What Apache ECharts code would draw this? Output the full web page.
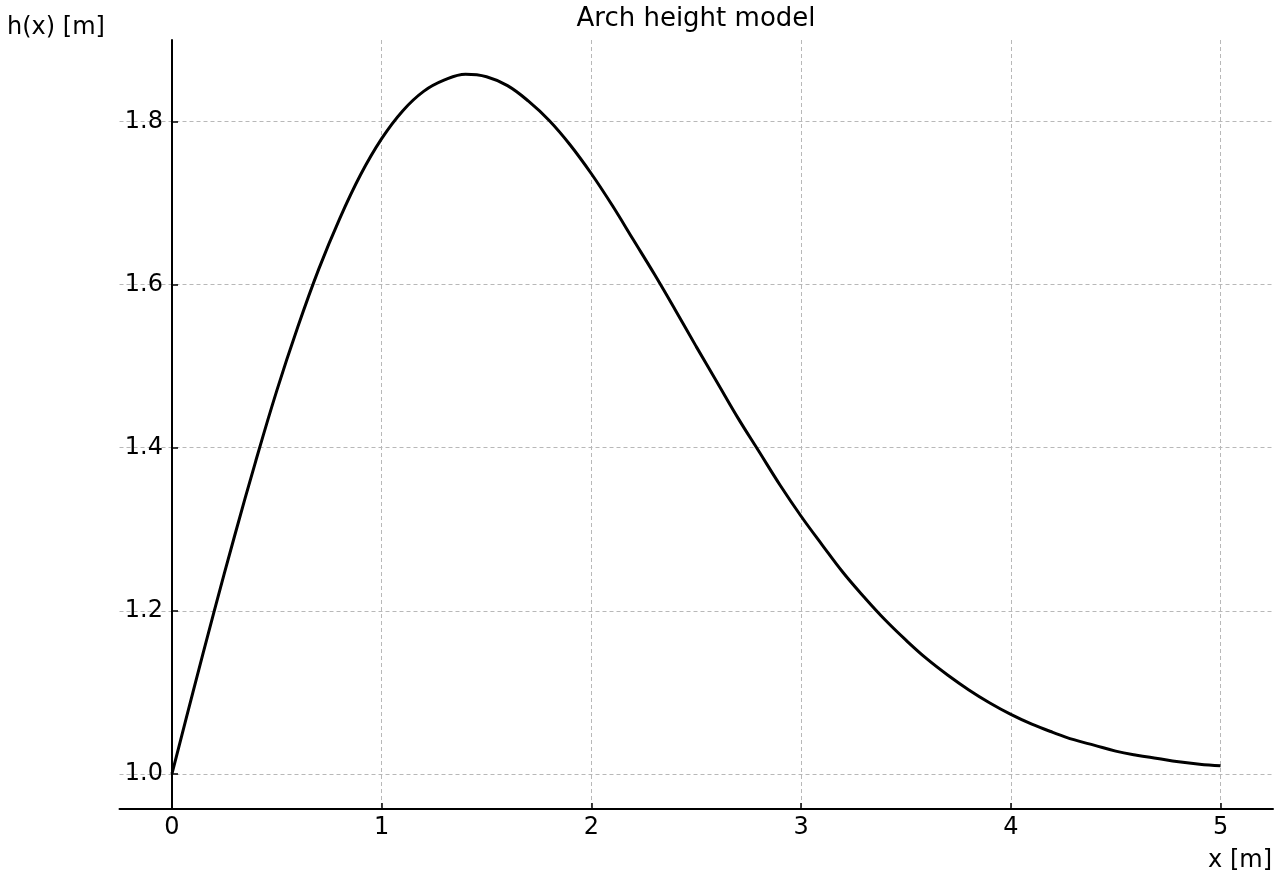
<!DOCTYPE html>
<html>
<head>
<meta charset="utf-8">
<title>Arch height model</title>
<script src="https://cdn.jsdelivr.net/npm/echarts@6/dist/echarts.min.js"></script>
<style>
  html, body { margin: 0; padding: 0; background: #fff; }
  #chart { width: 1280px; height: 880px; }
</style>
</head>
<body>
<div id="chart"></div>
<script>
// x positions along the arch [m]
var xValues = [
    0.0, 0.1, 0.2, 0.3, 0.4, 0.5, 0.6, 0.7, 0.8, 0.9,
    1.0, 1.1, 1.2, 1.3, 1.4, 1.5, 1.6, 1.7, 1.8, 1.9,
    2.0, 2.1, 2.2, 2.3, 2.4, 2.5, 2.6, 2.7, 2.8, 2.9,
    3.0, 3.1, 3.2, 3.3, 3.4, 3.5, 3.6, 3.7, 3.8, 3.9,
    4.0, 4.1, 4.2, 4.3, 4.4, 4.5, 4.6, 4.7, 4.8, 4.9, 5.0
];
// h(x) [m]
var hValues = [
    1.000, 1.100, 1.198, 1.293, 1.384, 1.470, 1.548, 1.619, 1.681, 1.735,
    1.779, 1.813, 1.837, 1.851, 1.858, 1.855, 1.844, 1.825, 1.801, 1.771,
    1.736, 1.697, 1.655, 1.613, 1.569, 1.524, 1.480, 1.436, 1.395, 1.354,
    1.316, 1.281, 1.247, 1.217, 1.189, 1.164, 1.141, 1.121, 1.103, 1.087,
    1.073, 1.061, 1.051, 1.042, 1.035, 1.028, 1.023, 1.019, 1.015, 1.012, 1.010
];
var xTicks = [0, 1, 2, 3, 4, 5];
var yTicks = [1.0, 1.2, 1.4, 1.6, 1.8];

var font = 'DejaVu Sans';
var lineData = [];
for (var i = 0; i < xValues.length; i++) {
    lineData.push([xValues[i], hValues[i]]);
}

var chart = echarts.init(document.getElementById('chart'), null, { renderer: 'canvas' });
var option = {
    animation: false,
    backgroundColor: '#fff',
    grid: {
        left: 119.5,
        right: 7,
        top: 40,
        bottom: 71,
        containLabel: false
    },
    xAxis: {
        type: 'value',
        min: -0.25,
        max: 5.25,
        axisLine: { onZero: false, lineStyle: { color: '#000', width: 2 } },
        axisTick: { inside: true, length: 6, lineStyle: { color: '#000', width: 1.5 }, customValues: xTicks },
        axisLabel: {
            color: '#000', fontFamily: font, fontSize: 24, margin: 7,
            customValues: xTicks,
            formatter: function (v) { return String(v); }
        },
        splitLine: {
            show: true,
            lineStyle: { color: '#b8b8b8', width: 1, type: [4, 3] }
        }
    },
    yAxis: {
        type: 'value',
        min: 0.957,
        max: 1.9,
        // spine sits at x = 0, i.e. 52.5px right of the grid's left edge
        offset: -52.5,
        axisLine: { show: true, onZero: false, lineStyle: { color: '#000', width: 2 } },
        axisTick: { show: true, inside: true, length: 6, lineStyle: { color: '#000', width: 1.5 }, customValues: yTicks },
        axisLabel: {
            color: '#000', fontFamily: font, fontSize: 24, margin: 9,
            customValues: yTicks,
            formatter: function (v) { return v.toFixed(1); }
        },
        splitLine: {
            show: true,
            lineStyle: { color: '#b8b8b8', width: 1, type: [4, 3] }
        }
    },
    graphic: [
        {
            type: 'text', x: 696, y: 19,
            style: { text: 'Arch height model', fill: '#000', font: '26px "DejaVu Sans"', textAlign: 'center', textVerticalAlign: 'middle' }
        },
        {
            type: 'text', x: 7, y: 28,
            style: { text: 'h(x) [m]', fill: '#000', font: '24px "DejaVu Sans"', textAlign: 'left', textVerticalAlign: 'middle' }
        },
        {
            type: 'text', x: 1272, y: 861,
            style: { text: 'x [m]', fill: '#000', font: '24px "DejaVu Sans"', textAlign: 'right', textVerticalAlign: 'middle' }
        }
    ],
    series: [
        {
            type: 'line',
            data: lineData,
            showSymbol: false,
            smooth: 0.4,
            lineStyle: { color: '#000', width: 3 },
            z: 5
        }
    ]
};
chart.setOption(option);
</script>
</body>
</html>
